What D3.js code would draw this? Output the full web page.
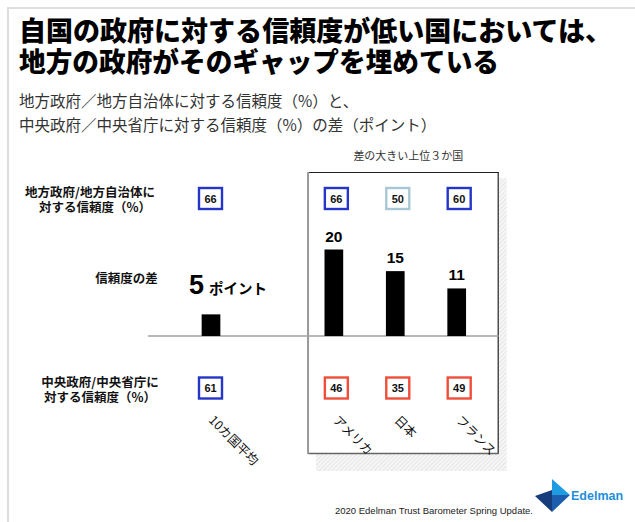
<!DOCTYPE html>
<html><head><meta charset="utf-8">
<script src="https://cdn.jsdelivr.net/npm/d3@7"></script>
<style>
html,body{margin:0;padding:0;background:#fff;}
svg{display:block;}
</style></head><body>
<script>
// ---- data ----
const categories = ["10カ国平均","アメリカ","日本","フランス"];
const localTrust = [66,66,50,60];      // 地方政府/地方自治体に対する信頼度（%）
const nationalTrust = [61,46,35,49];   // 中央政府/中央省庁に対する信頼度（%）
const trustGap = [5,20,15,11];         // 信頼度の差（ポイント）
const gapUnit = "ポイント";
const trustThresholds = [50,60];

// ---- setup ----
const W=635,H=522;
const svg = d3.select("body").append("svg").attr("width",W).attr("height",H);
const JP = "'Noto Sans CJK JP','Noto Sans',sans-serif";
const AR = "'Liberation Sans',Arial,sans-serif";

const x = d3.scalePoint()
  .domain([categories[0], "__gap__", ...categories.slice(1)])
  .range([211, 456.7]);
const y = d3.scaleLinear().domain([0,20]).range([336,249.5]);
const trustColor = d3.scaleThreshold().domain(trustThresholds)
  .range(["#f04e3a","#a8c7d4","#2336c8"]);

// outer frame
svg.append("path").attr("d","M8,522V8H635").attr("fill","none")
  .attr("stroke","#dedede").attr("stroke-width",2);

// title
svg.append("text").attr("x",19).attr("y",41).attr("font-family",JP).attr("font-weight",900)
  .attr("font-size",27).attr("fill","#000")
  .attr("textLength",593).attr("lengthAdjust","spacingAndGlyphs")
  .text("自国の政府に対する信頼度が低い国においては、");
svg.append("text").attr("x",19).attr("y",72).attr("font-family",JP).attr("font-weight",900)
  .attr("font-size",27).attr("fill","#000")
  .attr("textLength",480).attr("lengthAdjust","spacingAndGlyphs")
  .text("地方の政府がそのギャップを埋めている");

// subtitle
svg.append("text").attr("x",19).attr("y",107).attr("font-family",JP).attr("font-weight",400)
  .attr("font-size",15.5).attr("fill","#333").text("地方政府／地方自治体に対する信頼度（%）と、");
svg.append("text").attr("x",19).attr("y",131).attr("font-family",JP).attr("font-weight",400)
  .attr("font-size",15.5).attr("fill","#333").text("中央政府／中央省庁に対する信頼度（%）の差（ポイント）");

// hatch pattern for shadow
const defs = svg.append("defs");
const pat = defs.append("pattern").attr("id","hatch").attr("width",3).attr("height",3)
  .attr("patternUnits","userSpaceOnUse").attr("patternTransform","rotate(45)");
pat.append("rect").attr("width",3).attr("height",3).attr("fill","#f6f6f6");
pat.append("line").attr("x1",0).attr("y1",0).attr("x2",0).attr("y2",3)
  .attr("stroke","#dcdcdc").attr("stroke-width",1.2);

// panel for top 3 countries
const px0 = x(categories[1]) - 25.8, px1 = x(categories[3]) + 42;
const py0 = 172, py1 = 454;
svg.append("rect").attr("x",px0+8).attr("y",py0+6).attr("width",px1-px0).attr("height",py1-py0+11)
  .attr("fill","url(#hatch)");
svg.append("rect").attr("x",px0).attr("y",py0).attr("width",px1-px0).attr("height",py1-py0)
  .attr("fill","#fff");
svg.append("line").attr("x1",px0).attr("x2",px1).attr("y1",py0+0.5).attr("y2",py0+0.5)
  .attr("stroke","#222").attr("stroke-width",1);
svg.append("line").attr("x1",px1-0.5).attr("x2",px1-0.5).attr("y1",py0).attr("y2",py1)
  .attr("stroke","#222").attr("stroke-width",1.2);
svg.append("line").attr("x1",px0).attr("x2",px1).attr("y1",py1-0.5).attr("y2",py1-0.5)
  .attr("stroke","#666").attr("stroke-width",1.5);
svg.append("line").attr("x1",px0).attr("x2",px0).attr("y1",py0).attr("y2",py1)
  .attr("stroke","#999").attr("stroke-width",2);

svg.append("text").attr("x",(px0+px1)/2+5).attr("y",160).attr("text-anchor","middle")
  .attr("font-family",JP).attr("font-size",11).attr("fill","#333").text("差の大きい上位３か国");

// baseline
svg.append("line").attr("x1",148).attr("x2",px1).attr("y1",y(0)).attr("y2",y(0))
  .attr("stroke","#a0a0a0").attr("stroke-width",1.5);

// bars
const bw = 18.7;
svg.append("g").selectAll("rect").data(categories).join("rect")
  .attr("x",c=>x(c)-bw/2).attr("width",bw)
  .attr("y",(c,i)=>y(trustGap[i])).attr("height",(c,i)=>y(0)-y(trustGap[i]))
  .attr("fill","#000");

// bar labels
categories.forEach((c,i)=>{
  if(i===0){
    const t = svg.append("text").attr("x",x(c)-22).attr("y",y(trustGap[i])-20)
      .attr("font-weight",700).attr("fill","#000");
    t.append("tspan").attr("font-family",AR).attr("font-size",27).text(trustGap[i]);
    t.append("tspan").attr("dx",5).attr("font-family",JP).attr("font-size",14.5).text(gapUnit);
  } else {
    svg.append("text").attr("x",x(c)).attr("y",y(trustGap[i])-8).attr("text-anchor","middle")
      .attr("font-family",AR).attr("font-weight",700).attr("font-size",15.5).attr("fill","#000")
      .text(trustGap[i]);
  }
});

// trust boxes
function boxes(values, cy){
  const g = svg.append("g");
  const bx = (c,i)=> x(c) + (i===0 ? -0.5 : 2.5);
  g.selectAll("rect").data(categories).join("rect")
    .attr("x",(c,i)=>bx(c,i)-11.5).attr("y",cy-10.5).attr("width",23).attr("height",21)
    .attr("fill","#fff").attr("stroke",(c,i)=>trustColor(values[i])).attr("stroke-width",2.4);
  g.selectAll("text").data(categories).join("text")
    .attr("x",(c,i)=>bx(c,i)).attr("y",cy+4).attr("text-anchor","middle")
    .attr("font-family",AR).attr("font-weight",700).attr("font-size",11).attr("fill","#111")
    .text((c,i)=>values[i]);
}
boxes(localTrust, 198.5);
boxes(nationalTrust, 388);

// row labels
function rowLabel(lines, cx, ys){
  lines.forEach((l,i)=>{
    svg.append("text").attr("x",cx[i]).attr("y",ys[i]).attr("text-anchor","middle")
      .attr("font-family",JP).attr("font-weight",700).attr("font-size",12.5).attr("fill","#111")
      .text(l);
  });
}
rowLabel(["地方政府/地方自治体に","対する信頼度（%）"],[90,95],[196.5,211.5]);
rowLabel(["信頼度の差"],[126.5],[283]);
rowLabel(["中央政府/中央省庁に","対する信頼度（%）"],[100,100],[386.5,401.5]);

// category labels (rotated)
svg.append("g").selectAll("text").data(categories).join("text")
  .attr("transform",(c,i)=>`translate(${x(c)-(i===0?3:1.5)},421) rotate(45)`)
  .attr("font-family",JP).attr("font-size",12.5).attr("fill","#111")
  .text(c=>c);

// footer
svg.append("text").attr("x",533).attr("y",513.5).attr("text-anchor","end")
  .attr("font-family",AR).attr("font-size",9.5).attr("fill","#222")
  .text("2020 Edelman Trust Barometer Spring Update.");

// logo
const logo = svg.append("g");
logo.append("polygon").attr("points","552,479 570,495 552,495").attr("fill","#1f9be2");
logo.append("polygon").attr("points","552,495 570,495 552,512").attr("fill","#1c5ead");
logo.append("polygon").attr("points","535,496 552,490 552,512").attr("fill","#163c7b");
logo.append("text").attr("x",571).attr("y",500).attr("font-family",AR).attr("font-weight",700)
  .attr("font-size",12.5).attr("fill","#1f8fdc").text("Edelman");
</script>
</body></html>
